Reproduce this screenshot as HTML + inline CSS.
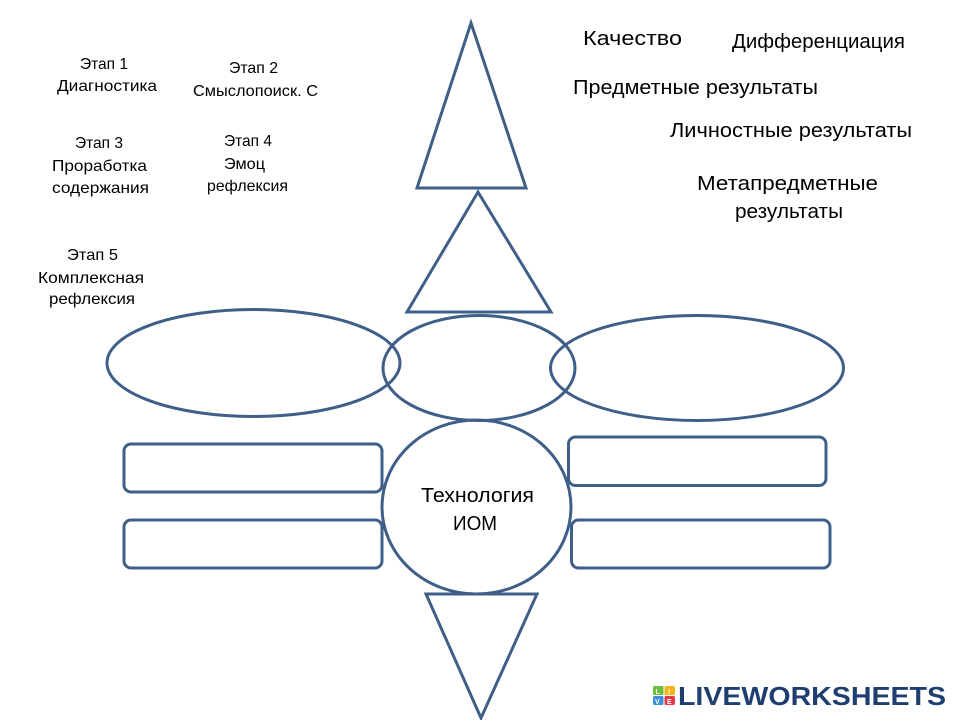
<!DOCTYPE html>
<html>
<head>
<meta charset="utf-8">
<style>
html,body{margin:0;padding:0;background:#fff;}
svg{display:block;}
text{font-family:"Liberation Sans","Noto Sans CJK SC",sans-serif;fill:#000;}
</style>
</head>
<body>
<svg width="960" height="720" viewBox="0 0 960 720" xmlns="http://www.w3.org/2000/svg">
<rect width="960" height="720" fill="#fff"/>
<g fill="none" stroke="#3f5f89" stroke-width="3" stroke-linejoin="miter">
  <polygon points="471,23 526,188 417,188"/>
  <polygon points="478,192 551,312 407,312"/>
  <ellipse cx="253.5" cy="363" rx="146.5" ry="53.5"/>
  <ellipse cx="479" cy="368" rx="96" ry="52.5"/>
  <ellipse cx="697" cy="368" rx="146.5" ry="52.5"/>
  <ellipse cx="476.5" cy="507" rx="94.5" ry="87"/>
  <rect x="124" y="444" width="258" height="48" rx="7"/>
  <rect x="124" y="520" width="258" height="48" rx="7"/>
  <rect x="568.5" y="437" width="257.5" height="48.5" rx="7"/>
  <rect x="571.5" y="520" width="258.5" height="48" rx="7"/>
  <polygon points="426,594 537,594 481,718"/>
</g>

<g font-size="16">
  <text x="80" y="69" textLength="48" lengthAdjust="spacingAndGlyphs">Этап 1</text>
  <text x="57" y="91" textLength="100" lengthAdjust="spacingAndGlyphs">Диагностика</text>
  <text x="229" y="73" textLength="49" lengthAdjust="spacingAndGlyphs">Этап 2</text>
  <text x="193" y="96" textLength="125" lengthAdjust="spacingAndGlyphs">Смыслопоиск. С</text>
  <text x="75" y="148" textLength="48" lengthAdjust="spacingAndGlyphs">Этап 3</text>
  <text x="52" y="171" textLength="95" lengthAdjust="spacingAndGlyphs">Проработка</text>
  <text x="52" y="193" textLength="97" lengthAdjust="spacingAndGlyphs">содержания</text>
  <text x="224" y="146" textLength="48" lengthAdjust="spacingAndGlyphs">Этап 4</text>
  <text x="224" y="169" textLength="41" lengthAdjust="spacingAndGlyphs">Эмоц</text>
  <text x="207" y="191" textLength="81" lengthAdjust="spacingAndGlyphs">рефлексия</text>
  <text x="67" y="260" textLength="51" lengthAdjust="spacingAndGlyphs">Этап  5</text>
  <text x="38" y="283" textLength="106" lengthAdjust="spacingAndGlyphs">Комплексная</text>
  <text x="49" y="304" textLength="86" lengthAdjust="spacingAndGlyphs">рефлексия</text>
</g>

<g font-size="20">
  <text x="583" y="45" textLength="99" lengthAdjust="spacingAndGlyphs">Качество</text>
  <text x="732" y="48" textLength="173" lengthAdjust="spacingAndGlyphs">Дифференциация</text>
  <text x="573" y="94" textLength="245" lengthAdjust="spacingAndGlyphs">Предметные результаты</text>
  <text x="670" y="137" textLength="242" lengthAdjust="spacingAndGlyphs">Личностные результаты</text>
  <text x="697" y="190" textLength="181" lengthAdjust="spacingAndGlyphs">Метапредметные</text>
  <text x="735" y="218" textLength="108" lengthAdjust="spacingAndGlyphs">результаты</text>
</g>

<g font-size="20">
  <text x="421" y="502" textLength="113" lengthAdjust="spacingAndGlyphs">Технология</text>
  <text x="453" y="530" textLength="44" lengthAdjust="spacingAndGlyphs">ИОМ</text>
</g>

<g>
  <rect x="653" y="686" width="10.5" height="9" rx="1.5" fill="#6bbf3a"/>
  <rect x="664.5" y="686" width="10.5" height="9" rx="1.5" fill="#f2b31b"/>
  <rect x="653" y="696" width="10.5" height="9" rx="1.5" fill="#3d8fd6"/>
  <rect x="664.5" y="696" width="10.5" height="9" rx="1.5" fill="#e23a4a"/>
  <text x="655.5" y="694" font-size="7" font-weight="bold" style="fill:#fff">L</text>
  <text x="668" y="694" font-size="7" font-weight="bold" style="fill:#fff">I</text>
  <text x="655" y="704" font-size="7" font-weight="bold" style="fill:#fff">V</text>
  <text x="667" y="704" font-size="7" font-weight="bold" style="fill:#fff">E</text>
  <text x="678" y="705" font-size="26" font-weight="bold" textLength="268" lengthAdjust="spacingAndGlyphs" style="fill:#1f3e70">LIVEWORKSHEETS</text>
</g>
</svg>
</body>
</html>
